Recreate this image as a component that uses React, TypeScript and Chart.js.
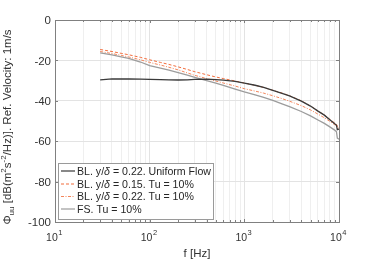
import React, { useEffect, useRef } from "react";
import { Chart, registerables } from "chart.js";

Chart.register(...registerables);

const freqs = [30, 40, 50, 60, 80, 100, 130, 160, 200, 250, 300, 400, 500, 600, 800, 1000, 1300, 1600, 2000, 2500, 3000, 4000, 5000, 6000, 7000, 8000, 9000, 9400, 9600, 10000];

const blUniform = [-29.6, -29.1, -29.2, -29.2, -29.3, -29.4, -29.5, -29.6, -29.7, -29.6, -29.4, -29.3, -29.5, -29.8, -30.4, -31.2, -32.3, -33.4, -34.8, -36.3, -37.6, -40.2, -42.6, -45.1, -47.1, -49.4, -51.3, -52.1, -54.3, -54.0];
const bl015Tu = [-14.6, -15.6, -16.5, -17.2, -18.5, -19.7, -21.0, -22.0, -23.2, -24.5, -25.6, -27.1, -28.2, -29.0, -30.2, -31.2, -32.3, -33.4, -34.8, -36.2, -37.5, -40.0, -42.6, -45.1, -47.0, -49.2, -51.0, -51.6, -52.6, -52.9];
const bl022Tu = [-15.6, -16.6, -17.5, -18.3, -19.7, -21.0, -22.3, -23.4, -24.7, -26.2, -27.4, -29.0, -30.2, -31.2, -32.7, -34.0, -35.2, -36.2, -37.5, -38.9, -40.2, -42.4, -44.5, -46.6, -48.4, -50.2, -51.8, -52.4, -53.2, -53.6];
const fsTu = [-16.3, -17.3, -18.2, -19.0, -20.8, -22.6, -23.8, -24.8, -26.0, -27.3, -28.4, -30.0, -31.3, -32.4, -34.2, -35.6, -37.1, -38.3, -39.8, -41.5, -42.9, -45.3, -47.5, -49.5, -51.2, -52.9, -54.5, -55.3, -58.5, -59.0];

const seriesLabels = ["BL. y/δ = 0.22. Uniform Flow", "BL. y/δ = 0.15. Tu = 10%", "BL. y/δ = 0.22. Tu = 10%", "FS. Tu = 10%"];
const seriesColors = ["#3a3a3a", "#f26d3d", "#f4855a", "#9c9c9c"];
const seriesDash = [[], [3, 2], [3, 1.5, 1, 1.5], []];

const yTicks = [0, -20, -40, -60, -80, -100];
const xMajor = [10, 100, 1000, 10000];
const xExponents = ["1", "2", "3", "4"];
const xTitle = "f [Hz]";

const FONT = "'Liberation Sans', Arial, Helvetica, sans-serif";

export default function App() {
  const ref = useRef<HTMLCanvasElement | null>(null);
  useEffect(() => {
    const canvas = ref.current;
    if (!canvas) return;
    const allSeries = [blUniform, bl015Tu, bl022Tu, fsTu];
    const minorTicks: number[] = [];
    for (let e = 1; e < 4; e++) {
      for (let m = 1; m < 10; m++) minorTicks.push(m * Math.pow(10, e));
    }
    minorTicks.push(10000);

    const deco = {
      id: "deco",
      afterDraw(chart: any) {
        const ctx = chart.ctx as CanvasRenderingContext2D;
        const a = chart.chartArea;
        const xs = chart.scales.x;
        const ys = chart.scales.y;
        ctx.save();
        ctx.strokeStyle = "#808080";
        ctx.lineWidth = 1;
        ctx.beginPath();
        for (const t of minorTicks) {
          const px = Math.round(xs.getPixelForValue(t)) + 0.5;
          const major = xMajor.includes(t);
          const len = major ? 3 : 2;
          ctx.moveTo(px, a.bottom);
          ctx.lineTo(px, a.bottom - len);
          ctx.moveTo(px, a.top);
          ctx.lineTo(px, a.top + len);
        }
        for (const t of yTicks) {
          const py = Math.round(ys.getPixelForValue(t)) + 0.5;
          ctx.moveTo(a.left, py);
          ctx.lineTo(a.left + 3, py);
          ctx.moveTo(a.right, py);
          ctx.lineTo(a.right - 3, py);
        }
        ctx.stroke();
        ctx.strokeRect(Math.round(a.left) + 0.5, Math.round(a.top) + 0.5, Math.round(a.right - a.left), Math.round(a.bottom - a.top));

        ctx.fillStyle = "#333333";
        ctx.font = `11.5px ${FONT}`;
        ctx.textAlign = "right";
        ctx.textBaseline = "middle";
        for (const t of yTicks) {
          ctx.fillText(String(t), a.left - 4, ys.getPixelForValue(t) + 1);
        }
        ctx.textBaseline = "alphabetic";
        ctx.textAlign = "left";
        xMajor.forEach((t, i) => {
          ctx.font = `10.5px ${FONT}`;
          const w1 = ctx.measureText("10").width;
          ctx.font = `7.5px ${FONT}`;
          const w2 = ctx.measureText(xExponents[i]).width;
          const x0 = xs.getPixelForValue(t) - (w1 + w2) / 2 - 1;
          ctx.font = `10.5px ${FONT}`;
          ctx.fillText("10", x0, 241);
          ctx.font = `7.5px ${FONT}`;
          ctx.fillText(xExponents[i], x0 + w1 + 0.5, 235);
        });
        ctx.font = `11.5px ${FONT}`;
        ctx.textAlign = "center";
        ctx.fillText(xTitle, (a.left + a.right) / 2, 257);

        const parts: [string, number, number][] = [
          ["Φ", 11.5, 0],
          ["uu", 8, 3],
          [" [dB(m", 11.5, 0],
          ["2", 8, -5],
          ["s", 11.5, 0],
          ["-2", 8, -5],
          ["/Hz)]. Ref. Velocity: 1m/s", 11.5, 0],
        ];
        let total = 0;
        const widths = parts.map(([s, sz]) => {
          ctx.font = `${sz}px ${FONT}`;
          const w = ctx.measureText(s).width;
          total += w;
          return w;
        });
        ctx.translate(11, 127);
        ctx.rotate(-Math.PI / 2);
        ctx.textAlign = "left";
        let cx = -total / 2;
        parts.forEach(([s, sz, off], i) => {
          ctx.font = `${sz}px ${FONT}`;
          ctx.fillText(s, cx, off);
          cx += widths[i];
        });
        ctx.setTransform(1, 0, 0, 1, 0, 0);

        const lx = 58.5, ly = 163.5, lw = 155, lh = 56;
        ctx.fillStyle = "#ffffff";
        ctx.fillRect(lx, ly, lw, lh);
        ctx.strokeStyle = "#9a9a9a";
        ctx.lineWidth = 1;
        ctx.strokeRect(lx, ly, lw, lh);
        const rowY = [171, 184, 196.5, 209];
        seriesLabels.forEach((lab, i) => {
          const y = rowY[i];
          ctx.strokeStyle = seriesColors[i];
          ctx.lineWidth = 1.2;
          ctx.setLineDash(seriesDash[i]);
          ctx.beginPath();
          ctx.moveTo(61, y);
          ctx.lineTo(75, y);
          ctx.stroke();
          ctx.setLineDash([]);
          ctx.fillStyle = "#262626";
          ctx.textBaseline = "middle";
          ctx.textAlign = "left";
          const idx = lab.indexOf("δ");
          let tx = 77;
          if (idx >= 0) {
            const pre = lab.slice(0, idx);
            const post = lab.slice(idx + 1);
            ctx.font = `10.6px ${FONT}`;
            ctx.fillText(pre, tx, y + 1);
            tx += ctx.measureText(pre).width;
            ctx.font = `italic 10.6px ${FONT}`;
            ctx.fillText("δ", tx, y + 1);
            tx += ctx.measureText("δ").width;
            ctx.font = `10.6px ${FONT}`;
            ctx.fillText(post, tx, y + 1);
          } else {
            ctx.font = `10.6px ${FONT}`;
            ctx.fillText(lab, tx, y + 1);
          }
        });
        ctx.restore();
      },
    };

    const chart = new Chart(canvas, {
      type: "line",
      data: {
        datasets: allSeries.map((arr, i) => ({
          label: seriesLabels[i],
          data: freqs.map((f, j) => ({ x: f, y: arr[j] })),
          borderColor: seriesColors[i],
          borderWidth: i === 1 || i === 2 ? 1 : 1.3,
          borderDash: seriesDash[i],
          pointRadius: 0,
          tension: 0,
          fill: false,
          order: i === 0 ? 0 : 4 - i,
        })),
      },
      options: {
        responsive: false,
        animation: false,
        layout: { padding: { left: 0, top: 20, right: 35, bottom: 0 } },
        plugins: { legend: { display: false }, tooltip: { enabled: false }, title: { display: false } },
        scales: {
          x: {
            type: "logarithmic",
            min: 10,
            max: 10000,
            afterBuildTicks: (s: any) => {
              s.ticks = minorTicks.map((v) => ({ value: v, major: xMajor.includes(v) }));
            },
            afterFit: (s: any) => {
              s.height = 40;
            },
            ticks: { display: false, autoSkip: false },
            border: { display: false },
            grid: {
              drawTicks: false,
              color: (c: any) => (c.tick && xMajor.includes(c.tick.value) ? "#e3e3e3" : "#efefef"),
              lineWidth: 1,
            },
          },
          y: {
            type: "linear",
            min: -100,
            max: 0,
            afterBuildTicks: (s: any) => {
              s.ticks = yTicks.map((v) => ({ value: v }));
            },
            afterFit: (s: any) => {
              s.width = 55;
            },
            ticks: { display: false },
            border: { display: false },
            grid: { drawTicks: false, color: "#e3e3e3", lineWidth: 1 },
          },
        },
      },
      plugins: [deco],
    } as any);
    return () => chart.destroy();
  }, []);

  return (
    <div style={{ position: "fixed", left: 0, top: 0, width: 374, height: 262, background: "#fff" }}>
      <canvas ref={ref} width={374} height={262} style={{ width: 374, height: 262, display: "block" }} />
    </div>
  );
}
